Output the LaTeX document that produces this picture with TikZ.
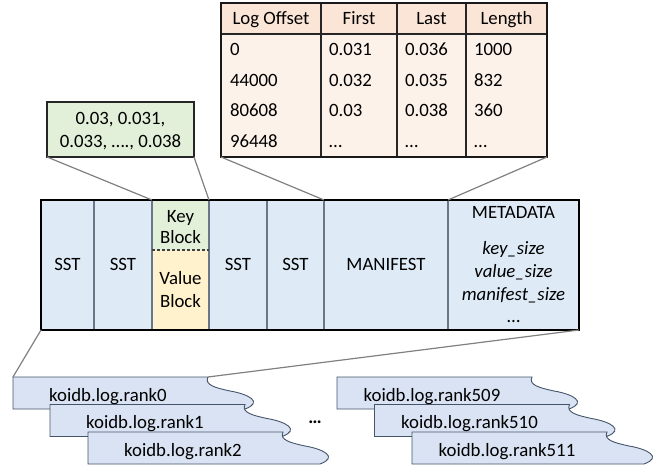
\documentclass[tikz,border=0pt]{standalone}
\usepackage{fontspec}
\setmainfont{Carlito}
\usetikzlibrary{calc}
\definecolor{barblue}{HTML}{DEEBF7}
\definecolor{rankblue}{HTML}{DAE3F3}
\definecolor{rankedge}{HTML}{44546A}
\definecolor{keygreen}{HTML}{E2F0D9}
\definecolor{valyellow}{HTML}{FFF2CC}
\definecolor{headpeach}{HTML}{FBE5D6}
\definecolor{bodypeach}{HTML}{FDF2EA}
\definecolor{divgray}{HTML}{687888}
\definecolor{linkgray}{HTML}{808080}
\begin{document}
\begin{tikzpicture}[x=1bp,y=-1bp,
  every node/.style={font=\fontsize{18.8bp}{23bp}\selectfont, inner sep=0pt, outer sep=0pt},
  link/.style={draw=linkgray, line width=1.2bp},
  cellbox/.style={fill=barblue, anchor=north west, minimum height=130bp},
  divider/.style={draw=divgray, line width=1.3bp},
  frame/.style={draw=black, line width=2.2bp},
  lbl/.style={anchor=base},
  tlbl/.style={anchor=base west},
  rankshape/.style={fill=rankblue, draw=rankedge, line width=0.9bp},
]
\useasboundingbox (0,0) rectangle (661,468);

% ---------- file layout bar ----------
\node[cellbox, minimum width=53bp]  (sst1) at (41,200) {};
\node[cellbox, minimum width=58bp]  (sst2) at (94,200) {};
\node[cellbox, fill=keygreen, minimum width=57bp, minimum height=50bp] (kblk) at (152,200) {};
\node[cellbox, fill=valyellow, minimum width=57bp, minimum height=80bp] (vblk) at (152,250) {};
\node[cellbox, minimum width=58bp]  (sst3) at (209,200) {};
\node[cellbox, minimum width=57bp]  (sst4) at (267,200) {};
\node[cellbox, minimum width=124bp] (mani) at (324,200) {};
\node[cellbox, minimum width=131bp] (meta) at (448,200) {};

\foreach \c in {sst1,sst2,kblk,vblk,sst3,sst4,mani}
  \draw[divider] (\c.north east) -- (\c.south east);
\draw[divider] (kblk.north west) -- (vblk.south west);
\draw[draw=black!75, line width=1.1bp, dash pattern=on 3bp off 2bp]
  (kblk.south west) -- (kblk.south east);
\draw[frame] (sst1.north west) rectangle (meta.south east);

\node[lbl] at (67.5,271) {SST};
\node[lbl] at (123,271) {SST};
\node[lbl] at (180.5,223) {Key};
\node[lbl] at (180.5,244) {Block};
\node[lbl] at (180.5,285) {Value};
\node[lbl] at (180.5,308) {Block};
\node[lbl] at (238,271) {SST};
\node[lbl] at (295.5,271) {SST};
\node[lbl] at (386,271) {MANIFEST};
\node[lbl] at (513.5,219) {METADATA};
\node[lbl] at (513.5,255) {\itshape key\_size};
\node[lbl] at (513.5,278) {\itshape value\_size};
\node[lbl] at (513.5,301) {\itshape manifest\_size};
\node[lbl] at (513.5,323) {…};

% ---------- key block contents ----------
\node[draw=black!85, line width=2bp, fill=keygreen, anchor=north west,
      minimum width=147bp, minimum height=55bp] (keys) at (47,102) {};
\node[lbl] at (120.5,125) {0.03, 0.031,};
\node[lbl] at (120.5,148) {0.033, …., 0.038};

% ---------- manifest table ----------
\node[fill=bodypeach, anchor=north west, minimum width=326bp, minimum height=154bp] (tbl) at (221,3) {};
\node[fill=headpeach, anchor=north west, minimum width=100bp, minimum height=31bp] (h1) at (221,3) {};
\node[fill=headpeach, anchor=north west, minimum width=76bp, minimum height=31bp] (h2) at (321,3) {};
\node[fill=headpeach, anchor=north west, minimum width=69bp, minimum height=31bp] (h3) at (397,3) {};
\node[fill=headpeach, anchor=north west, minimum width=81bp, minimum height=31bp] (h4) at (466,3) {};
\draw[black!85, line width=1.1bp] (h1.south west) -- (h4.south east);
\foreach \c in {h1,h2,h3}
  \draw[black!85, line width=1.1bp] (\c.north east) -- (\c.north east |- tbl.south);
\draw[draw=black!90, line width=2bp] (tbl.north west) rectangle (tbl.south east);

\node[lbl] at (271,25) {Log Offset};
\node[lbl] at (359,25) {First};
\node[lbl] at (431.5,25) {Last};
\node[lbl] at (506.5,25) {Length};

\node[tlbl] at (230,56)  {0};
\node[tlbl] at (230,87)  {44000};
\node[tlbl] at (230,117) {80608};
\node[tlbl] at (230,148) {96448};
\node[tlbl] at (329,56)  {0.031};
\node[tlbl] at (329,87)  {0.032};
\node[tlbl] at (329,117) {0.03};
\node[tlbl] at (329,148) {…};
\node[tlbl] at (405,56)  {0.036};
\node[tlbl] at (405,87)  {0.035};
\node[tlbl] at (405,117) {0.038};
\node[tlbl] at (405,148) {…};
\node[tlbl] at (474,56)  {1000};
\node[tlbl] at (474,87)  {832};
\node[tlbl] at (474,117) {360};
\node[tlbl] at (474,148) {…};

% ---------- per-rank log files ----------
\newcommand{\rankfile}[4]{% name, left x, top y, label
  \coordinate (#1) at (#2,#3);
  \draw[rankshape] (#1) -- ++(195,0)
    .. controls +(-4,8) and +(-14,-3) .. ++(22,14)
    .. controls +(18,3) and +(19,-7) .. ++(15,18)
    -- ++(-232,0) -- cycle;
  \node[lbl] at ($(#1)+(95,24)$) {#4};
}
\rankfile{r0}{13}{377}{koidb.log.rank0}
\rankfile{r1}{50}{404.5}{koidb.log.rank1}
\rankfile{r2}{88}{432}{koidb.log.rank2}
\rankfile{r509}{337}{377}{koidb.log.rank509}
\rankfile{r510}{374.5}{404.5}{koidb.log.rank510}
\rankfile{r511}{412}{432}{koidb.log.rank511}
\node[lbl, font=\fontsize{18.8bp}{23bp}\selectfont\bfseries] (gap) at (315,423) {…};

% ---------- zoom connectors ----------
\coordinate (r0ne) at ($(r0)+(195,0)$);
\draw[link] (keys.south west) -- (kblk.north west);
\draw[link] (keys.south east) -- (kblk.north east);
\draw[link] (tbl.south west) -- (mani.north west);
\draw[link] (tbl.south east) -- (meta.north west);
\draw[link] (sst1.south west) -- (r0);
\draw[link] (meta.south east) -- (r0ne);
\end{tikzpicture}
\end{document}
